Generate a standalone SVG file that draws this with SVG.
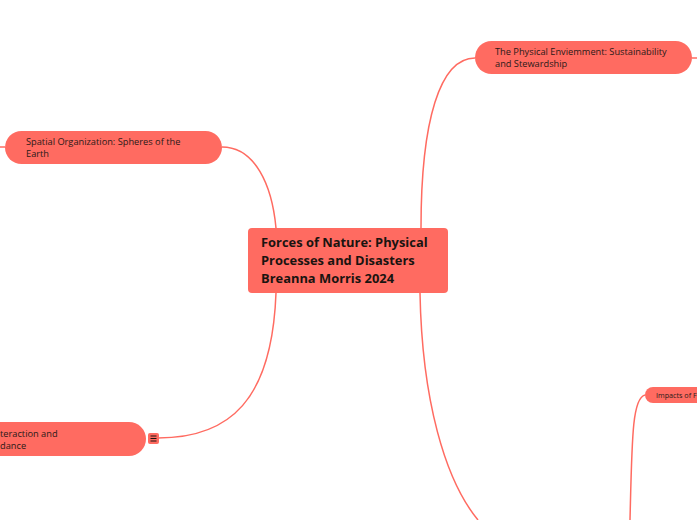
<svg xmlns="http://www.w3.org/2000/svg" width="697" height="520" viewBox="0 0 697 520">
<style>
.node{fill:#FF6B61;}
.conn{fill:none;stroke:#FF6B61;stroke-width:1.5;}
.t{font-family:"Open Sans","Noto Sans",sans-serif;font-size:9.25px;fill:#2a1a18;}
.tc{font-family:"Open Sans","Noto Sans",sans-serif;font-size:12.9px;font-weight:bold;fill:#1a1410;}
.ts{font-family:"Open Sans","Noto Sans",sans-serif;font-size:7.2px;fill:#2a1a18;}
</style>
<rect width="697" height="520" fill="#ffffff"/>
<g id="connectors">
<path class="conn" d="M222,147 C255,147 272,185 276,228"/>
<path class="conn" d="M421,228 C421,120 440,58 475,58"/>
<path class="conn" d="M420,293 C422,400 445,480 478,520"/>
<path class="conn" d="M158,438 C230,438 272,400 276,293"/>
<path class="conn" d="M692,58 L697,58"/>
<path class="conn" d="M0,147 L5,147"/>
<path class="conn" d="M645,395 C632,398 632,440 630,520"/>
</g>
<g id="central">
<rect class="node" x="248" y="228" width="200" height="65" rx="4"/>
<text class="tc" x="261" y="247">Forces of Nature: Physical</text>
<text class="tc" x="261" y="265">Processes and Disasters</text>
<text class="tc" x="261" y="283">Breanna Morris 2024</text>
</g>
<g id="node-environment">
<rect class="node" x="475" y="41" width="217" height="33" rx="16.5"/>
<text class="t" x="495" y="55">The Physical Enviemment: Sustainability</text>
<text class="t" x="495" y="67">and Stewardship</text>
</g>
<g id="node-spatial">
<rect class="node" x="5" y="131" width="217" height="33" rx="16.5"/>
<text class="t" x="26" y="145">Spatial Organization: Spheres of the</text>
<text class="t" x="26" y="157">Earth</text>
</g>
<g id="node-interaction">
<rect class="node" x="-75" y="422" width="221" height="34" rx="17"/>
<text class="t" x="0" y="437">teraction and</text>
<text class="t" x="0" y="449">dance</text>
<rect class="node" x="148" y="433" width="11" height="11" rx="2"/>
<path d="M150.5,436 h6 M150.5,438.5 h6 M150.5,441 h6" stroke="#1a1410" stroke-width="1"/>
</g>
<g id="node-impacts">
<rect class="node" x="645" y="387" width="80" height="16" rx="8"/>
<text class="ts" x="656" y="398">Impacts of F</text>
</g>
</svg>
